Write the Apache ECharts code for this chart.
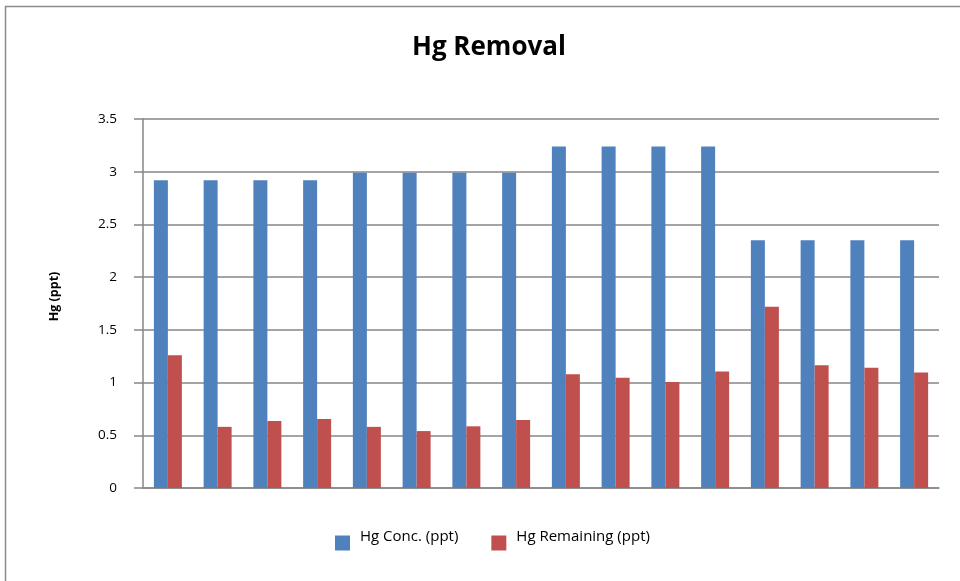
<!DOCTYPE html>
<html>
<head>
<meta charset="utf-8">
<script src="https://cdn.jsdelivr.net/npm/echarts@6/dist/echarts.min.js"></script>
<style>
html,body{margin:0;padding:0;background:#fff;}
#c{width:960px;height:581px;}
</style>
</head>
<body>
<div id="c"></div>
<script>
const categories = ['1','2','3','4','5','6','7','8','9','10','11','12','13','14','15','16'];
const hgConc = [2.92,2.92,2.92,2.92,2.99,2.99,2.99,2.99,3.24,3.24,3.24,3.24,2.35,2.35,2.35,2.35];
const hgRemaining = [1.26,0.58,0.635,0.655,0.58,0.54,0.585,0.645,1.08,1.045,1.005,1.105,1.72,1.165,1.14,1.095];
const yTicks = [0,0.5,1,1.5,2,2.5,3,3.5];

const chart = echarts.init(document.getElementById('c'));
const fontFam = '"Open Sans", "Liberation Sans", sans-serif';
chart.setOption({
  animation: false,
  backgroundColor: '#fff',
  graphic: [{
    type: 'rect',
    shape: {x: 5.5, y: 6.5, width: 1000, height: 1000},
    style: {fill: 'none', stroke: '#8a8a8a', lineWidth: 1.5},
    silent: true, z: -1
  }],
  title: {
    text: 'Hg Removal',
    left: 407,
    top: 30,
    textStyle: {fontFamily: fontFam, fontWeight: 'bold', fontSize: 26, color: '#000'}
  },
  legend: {
    top: 529,
    left: 335,
    padding: 0,
    itemWidth: 15,
    itemHeight: 15,
    itemGap: 33,
    icon: 'rect',
    formatter: '{a|{name}}',
    textStyle: {fontFamily: fontFam, fontSize: 15, color: '#000',
      rich: {a: {fontFamily: fontFam, fontSize: 15, color: '#000', lineHeight: 28, verticalAlign: 'top', padding: [0,0,0,5]}}},
    data: ['Hg Conc. (ppt)','Hg Remaining (ppt)']
  },
  grid: {left: 143, right: 21, top: 119, bottom: 93, containLabel: false},
  xAxis: {
    type: 'category',
    data: categories,
    axisLine: {show: true, lineStyle: {color: '#868686', width: 1.5}},
    axisTick: {show: false},
    axisLabel: {show: false},
    splitLine: {show: false}
  },
  yAxis: {
    type: 'value',
    min: yTicks[0],
    max: yTicks[yTicks.length-1],
    interval: 0.5,
    name: 'Hg (ppt)',
    nameLocation: 'middle',
    nameGap: 82,
    nameRotate: 90,
    nameTextStyle: {fontFamily: fontFam, fontWeight: 'bold', fontSize: 12.5, color: '#000', padding: [0,0,0,14]},
    axisLine: {show: true, lineStyle: {color: '#868686', width: 1.5}},
    axisTick: {show: true, length: 9, lineStyle: {color: '#868686', width: 1.5}},
    axisLabel: {margin: 26, fontFamily: fontFam, fontSize: 13.5, color: '#000',
      formatter: v => String(v)},
    splitLine: {show: true, lineStyle: {color: '#868686', width: 1.5}}
  },
  series: [
    {name: 'Hg Conc. (ppt)', type: 'bar', data: hgConc, barWidth: 14, barGap: '0%',
     itemStyle: {color: '#4F81BD'}},
    {name: 'Hg Remaining (ppt)', type: 'bar', data: hgRemaining, barWidth: 14, barGap: '0%',
     itemStyle: {color: '#C0504D'}}
  ]
});
</script>
</body>
</html>
